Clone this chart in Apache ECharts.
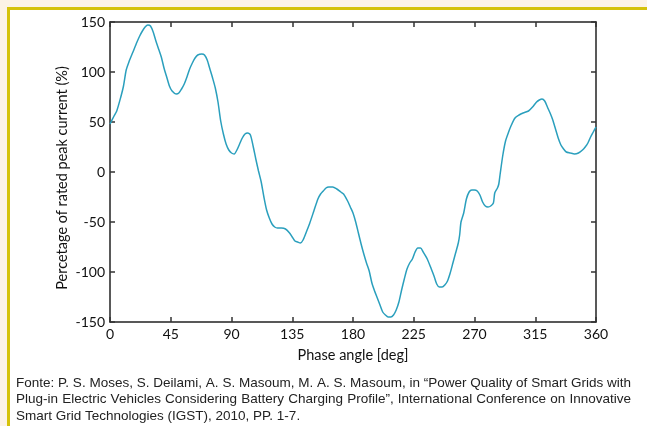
<!DOCTYPE html>
<html>
<head>
<meta charset="utf-8">
<script src="https://cdn.jsdelivr.net/npm/echarts@6/dist/echarts.min.js"></script>
<style>html,body{margin:0;padding:0;background:#fcf3e6;}#c{width:647px;height:426px;}</style>
</head>
<body>
<div id="c"></div>
<script>
// Data
const phaseAngle = [0,3,5,8,10,12,14,17,20,22,24,26,28,30,32,34,36,38,40,42,44,46,49,51,53,55,57,59,61,63,65,68,70,72,74,76,78,80,82,84,86,88,90,92,94,96,98,100,102,104,106,108,110,112,114,116,118,120,122,124,127,130,133,135,137,139,141,143,146,148,151,154,156,158,160,162,165,168,171,173,176,178,180,182,184,186,188,190,192,194,196,198,200,202,204,206,208,210,212,214,216,218,220,222,224,226,228,230,232,235,238,240,242,244,246,248,250,252,254,256,258,259,260,262,264,266,268,270,272,274,276,278,280,282,284,285,287,288,289,291,293,295,297,300,303,306,310,313,316,318,320,322,324,326,328,330,332,334,336,338,341,344,347,350,352,354,356,358,360];
const currentPct = [48,56,61,75,86,102,110,120,130,136,141,145,147,146,140,131,123,115,104,95,86,81,78,79,83,88,95,103,109,114,117,118,117,112,103,94,84,70,51,38,28,22,19,18,22,28,34,38,39,37,26,13,1,-10,-25,-38,-46,-52,-55,-56,-56,-57,-61,-65,-69,-70,-71,-68,-58,-51,-39,-27,-22,-19,-16,-15,-15,-17,-20,-22,-29,-35,-41,-50,-61,-72,-82,-91,-99,-111,-119,-126,-133,-140,-143,-145,-145,-143,-138,-130,-118,-107,-97,-91,-87,-80,-76,-76,-80,-87,-97,-104,-112,-115,-115,-113,-109,-101,-91,-81,-71,-63,-50,-41,-27,-20,-18,-18,-19,-23,-30,-34,-35,-34,-31,-21,-16,-12,-2,17,31,39,46,54,57,59,61,65,70,72,73,71,65,59,52,43,34,27,23,20,19,18,19,22,25,29,35,40,45];
const xTicks = [0,45,90,135,180,225,270,315,360];
const yTicks = [-150,-100,-50,0,50,100,150];
const xTitle = 'Phase angle [deg]';
const yTitle = 'Percetage of rated peak current (%)';
const caption = [
  'Fonte: P. S. Moses, S. Deilami, A. S. Masoum, M. A. S. Masoum, in \u201cPower Quality of Smart Grids with',
  'Plug-in Electric Vehicles Considering Battery Charging Profile\u201d, International Conference on Innovative',
  'Smart Grid Technologies (IGST), 2010, PP. 1-7.'
];

// justified caption layout (text measuring only)
const capFont = '13.5px "Liberation Sans", Arial, sans-serif';
const capLeft = 16, capRight = 631, capTop = 383, capStep = 16.5;
const mctx = document.createElement('canvas').getContext('2d');
mctx.font = capFont;
const captionGraphics = [];
caption.forEach((line, li) => {
  const y = capTop + li * capStep;
  const justify = li < caption.length - 1;
  if (!justify) {
    captionGraphics.push({type: 'text', x: capLeft, y: y,
      style: {text: line, fill: '#222', font: capFont, textVerticalAlign: 'middle'}, z: 10});
    return;
  }
  const words = line.split(' ');
  const widths = words.map(w => mctx.measureText(w).width);
  const total = widths.reduce((a, b) => a + b, 0);
  const gap = (capRight - capLeft - total) / (words.length - 1);
  let x = capLeft;
  words.forEach((w, i) => {
    captionGraphics.push({type: 'text', x: x, y: y,
      style: {text: w, fill: '#222', font: capFont, textVerticalAlign: 'middle'}, z: 10});
    x += widths[i] + gap;
  });
});

const chart = echarts.init(document.getElementById('c'), null, {renderer: 'canvas'});
const tickFont = 'Lato, "DejaVu Sans", sans-serif';
const axisBase = (pos, showLabels) => ({
  type: 'value',
  position: pos,
  axisLine: {show: true, onZero: false, lineStyle: {color: '#222', width: 1.5}},
  axisTick: {show: true, inside: true, length: 5, lineStyle: {color: '#333', width: 1.5}},
  splitLine: {show: false},
  axisLabel: {show: showLabels, color: '#111', fontFamily: tickFont, fontSize: 14, margin: 5}
});
const seriesData = phaseAngle.map((a, i) => [a, currentPct[i]]);

chart.setOption({
  backgroundColor: '#fcf3e6',
  animation: false,
  graphic: [
    {type: 'rect', shape: {x: 7, y: 7, width: 640, height: 419}, style: {fill: '#d5c20a'}, z: -10, silent: true},
    {type: 'rect', shape: {x: 10, y: 10, width: 637, height: 416}, style: {fill: '#ffffff'}, z: -9, silent: true},
    {type: 'text', x: 62, y: 178, rotation: Math.PI / 2,
      style: {text: yTitle, fill: '#111', font: '14.5px Lato, "DejaVu Sans", sans-serif',
        textAlign: 'center', textVerticalAlign: 'middle'}, z: 10}
  ].concat(captionGraphics),
  grid: {left: 110, top: 22, width: 486, height: 300, containLabel: false},
  xAxis: [
    Object.assign(axisBase('bottom', true), {min: 0, max: 360, interval: 45,
      name: xTitle, nameLocation: 'middle', nameGap: 26,
      nameTextStyle: {color: '#111', fontFamily: tickFont, fontSize: 14.5},
      axisLabel: {color: '#111', fontFamily: tickFont, fontSize: 14, margin: 5,
        formatter: v => xTicks.includes(v) ? String(v) : ''}}),
    Object.assign(axisBase('top', false), {min: 0, max: 360, interval: 45})
  ],
  yAxis: [
    Object.assign(axisBase('left', true), {min: -150, max: 150, interval: 50,
      axisLabel: {color: '#111', fontFamily: tickFont, fontSize: 14, margin: 5,
        formatter: v => yTicks.includes(v) ? String(v) : ''}}),
    Object.assign(axisBase('right', false), {min: -150, max: 150, interval: 50})
  ],
  series: [{
    type: 'line', data: seriesData, xAxisIndex: 0, yAxisIndex: 0,
    showSymbol: false, smooth: 0.25,
    lineStyle: {color: '#2a9fbd', width: 1.5}
  }]
});
</script>
</body>
</html>
